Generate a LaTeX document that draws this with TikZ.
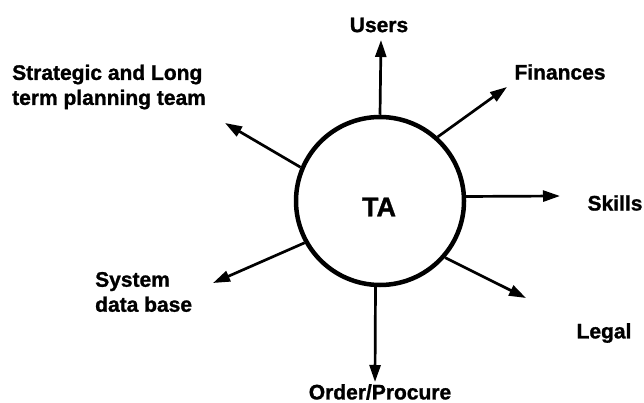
\documentclass[tikz,border=0pt]{standalone}
\usepackage{fontspec}
\setmainfont{Liberation Sans}[BoldFeatures={FakeBold=1.2}]
\usetikzlibrary{arrows.meta}
\begin{document}
\begin{tikzpicture}[x=1pt,y=-1pt,
  lbl/.style={font=\bfseries\fontsize{21}{25}\selectfont, inner sep=0pt},
  ray/.style={line width=2.7pt, -{Triangle[length=17pt,width=11pt]}}]
\useasboundingbox (0,0) rectangle (644,403);
% central body
\node[circle, draw, line width=4.5pt, minimum size=168pt, inner sep=0pt] (ta) at (380,201) {};
\node[font=\bfseries\fontsize{27}{30}\selectfont, inner sep=0pt] (talbl) at (379,207) {TA};
% labels
\node[lbl] (users) at (379,25) {Users};
\node[lbl] (fin) at (560,72) {Finances};
\node[lbl] (skills) at (615,203) {Skills};
\node[lbl] (legal) at (604,333) {Legal};
\node[lbl] (order) at (380,392) {Order/Procure};
\node[lbl, anchor=west, align=left] (sys) at (95,292) {System\\data base};
\node[lbl, anchor=west, align=left] (strat) at (12,87) {Strategic and Long\\term planning team};
% arrow tips
\coordinate (tUsers) at (381,40);
\coordinate (tFin) at (507,87);
\coordinate (tSkills) at (560,196);
\coordinate (tLegal) at (526,298);
\coordinate (tOrder) at (375,382);
\coordinate (tSys) at (213,283);
\coordinate (tStrat) at (225,123);
% rays
\draw[ray] (ta.90) -- (tUsers);
\draw[ray] (ta.48) -- (tFin);
\draw[ray] (ta.3) -- (tSkills);
\draw[ray] (ta.-41) -- (tLegal);
\draw[ray] (ta.-93) -- (tOrder);
\draw[ray] (ta.209) -- (tSys);
\draw[ray] (ta.157) -- (tStrat);
\end{tikzpicture}
\end{document}
